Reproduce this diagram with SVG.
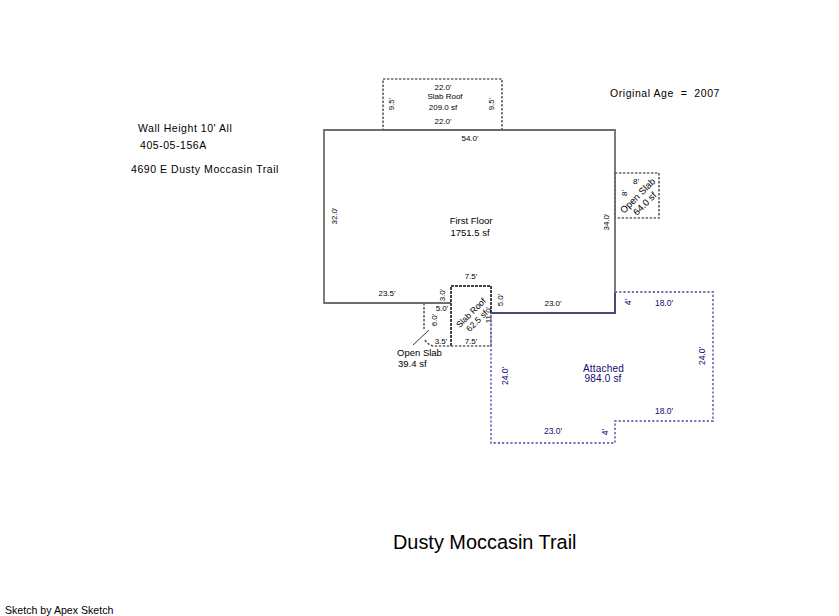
<svg xmlns="http://www.w3.org/2000/svg" width="839" height="616" viewBox="0 0 839 616">
<style>
text{font-family:"Liberation Sans",Arial,sans-serif;fill:#000;white-space:pre}
.s{font-size:8px;text-anchor:middle}
.n{font-size:9.5px;text-anchor:middle}
.t{font-size:8.6px;text-anchor:middle}
.c{font-size:8.5px;text-anchor:middle;fill:#14086e}
.a{font-size:10px;text-anchor:middle;fill:#14086e;letter-spacing:.2px}
.l{text-anchor:start}
.h{font-size:10.5px;letter-spacing:.55px}
.w{fill:none;stroke:#6e6e6e;stroke-width:1.8}
.d{fill:none;stroke:#666;stroke-width:1.7;stroke-dasharray:2.4 1.6}
.k{fill:none;stroke:#444;stroke-width:2;stroke-dasharray:3 1}
.p{fill:none;stroke:#7a70b8;stroke-width:1.8;stroke-dasharray:2.2 2}
</style>
<rect width="839" height="616" fill="#fff"/>
<g id="connectors">
<path class="w" d="M451 303H324V130H615V292"/>
<path d="M491 313H615V292" fill="none" stroke="#4a4a78" stroke-width="2"/>
<path d="M413 345L429 330" fill="none" stroke="#222" stroke-width=".9"/>
</g>
<g id="first-floor">
<text class="n" x="471" y="224">First Floor</text>
<text class="n" x="470" y="236">1751.5 sf</text>
<text class="s" x="470" y="141">54.0'</text>
<text class="s" x="387" y="296">23.5'</text>
<text class="s" transform="translate(337,216) rotate(-90)">32.0'</text>
<text class="s" transform="translate(609,222) rotate(-90)">34.0'</text>
<text class="s" transform="translate(445,295) rotate(-90)">3.0'</text>
<text class="s" transform="translate(503,300) rotate(-90)">5.0'</text>
<text class="s" x="553" y="306">23.0'</text>
</g>
<g id="slab-roof-top">
<rect class="d" x="383" y="79" width="119" height="51"/>
<text class="s" x="443" y="90">22.0'</text>
<text class="s" x="445" y="99">Slab Roof</text>
<text class="s" x="443" y="110">209.0 sf</text>
<text class="s" x="443" y="124">22.0'</text>
<text class="s" transform="translate(394,104) rotate(-90)">9.5'</text>
<text class="s" transform="translate(494,104) rotate(-90)">9.5'</text>
</g>
<g id="open-slab-east">
<rect class="d" x="615" y="173" width="44" height="45"/>
<text class="s" x="636" y="184">8'</text>
<text class="s" transform="translate(627,193) rotate(-90)">8'</text>
<text class="n" transform="translate(640,198) rotate(-45)">Open Slab</text>
<text class="n" transform="translate(647,206) rotate(-45)">64.0 sf</text>
</g>
<g id="slab-roof-south">
<path class="k" d="M451 346V286H491V313"/>
<path class="d" d="M451 346H491V313"/>
<text class="s" x="471" y="279">7.5'</text>
<text class="s" x="471" y="344">7.5'</text>
<text class="s" transform="translate(491,315) rotate(-90)">11.0'</text>
<text class="t" transform="translate(473,315) rotate(-45)">Slab Roof</text>
<text class="t" transform="translate(479,323) rotate(-45)">62.5 sf</text>
</g>
<g id="open-slab-south">
<path class="d" d="M424 303V329M425 340Q428 345 433 346H451"/>
<text class="s" x="442" y="311">5.0'</text>
<text class="s" x="441" y="344">3.5'</text>
<text class="s" transform="translate(437,320) rotate(-90)">6.0'</text>
<text class="n l" x="397" y="356">Open Slab</text>
<text class="n l" x="398" y="367">39.4 sf</text>
</g>
<g id="attached">
<path class="p" d="M615 292H713V421H615V443H491V313"/>
<text class="a" x="603.500" y="372">Attached</text>
<text class="a" x="603" y="382">984.0 sf</text>
<text class="c" x="664" y="306">18.0'</text>
<text class="c" x="664" y="414">18.0'</text>
<text class="c" x="553" y="434">23.0'</text>
<text class="c" transform="translate(508,376) rotate(-90)">24.0'</text>
<text class="c" transform="translate(705,356) rotate(-90)">24.0'</text>
<text class="c" transform="translate(631,302) rotate(-90)">4'</text>
<text class="c" transform="translate(608,432) rotate(-90)">4'</text>
</g>
<g id="notes">
<text class="h" x="138" y="132">Wall Height 10' All</text>
<text class="h" x="140" y="149">405-05-156A</text>
<text class="h" x="131" y="173">4690 E Dusty Moccasin Trail</text>
<text class="h" x="610" y="97">Original Age  =  2007</text>
<text x="393" y="549" style="font-size:19.900px">Dusty Moccasin Trail</text>
<text x="5" y="614" style="font-size:10.600px">Sketch by Apex Sketch</text>
</g>
</svg>
